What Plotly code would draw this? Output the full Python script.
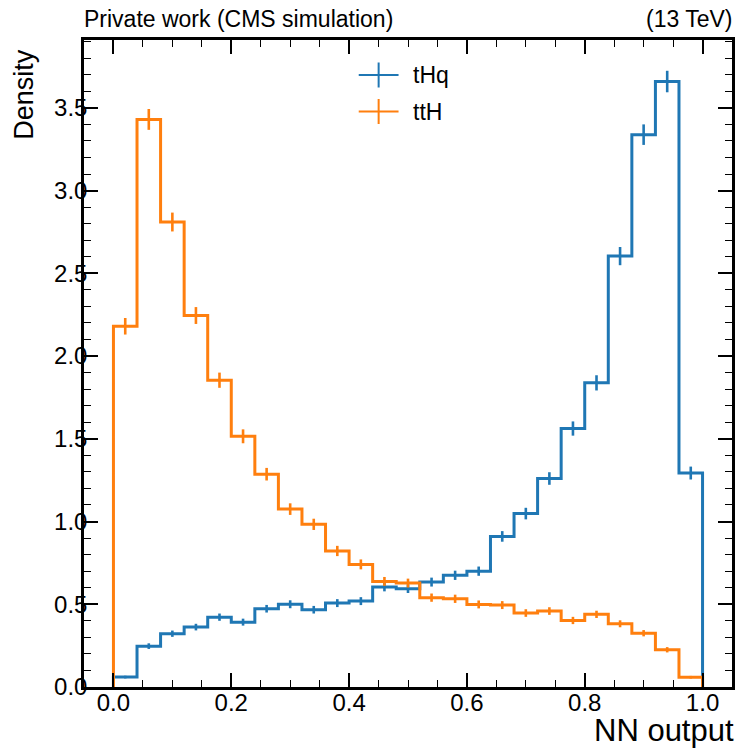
import numpy as np
import plotly.graph_objects as go

# ---------------- data ----------------
bin_edges = [round(0.04 * i, 2) for i in range(26)]

thq_values = [0.06, 0.247, 0.322, 0.362, 0.422, 0.392, 0.473, 0.50, 0.467, 0.507,
              0.519, 0.604, 0.594, 0.634, 0.675, 0.70, 0.91, 1.048, 1.26, 1.562,
              1.838, 2.604, 3.338, 3.659, 1.293]
thq_errors = [0.008, 0.017, 0.019, 0.020, 0.022, 0.021, 0.023, 0.024, 0.023, 0.024,
              0.024, 0.026, 0.026, 0.027, 0.028, 0.028, 0.032, 0.035, 0.038, 0.043,
              0.046, 0.055, 0.062, 0.065, 0.039]

tth_values = [2.18, 3.43, 2.81, 2.245, 1.854, 1.515, 1.286, 1.075, 0.983, 0.822,
              0.741, 0.638, 0.628, 0.540, 0.533, 0.499, 0.495, 0.447, 0.459, 0.402,
              0.439, 0.382, 0.325, 0.225, 0.059]
tth_errors = [0.050, 0.063, 0.057, 0.051, 0.046, 0.042, 0.038, 0.035, 0.034, 0.031,
              0.030, 0.027, 0.027, 0.025, 0.025, 0.024, 0.024, 0.023, 0.023, 0.022,
              0.022, 0.021, 0.019, 0.016, 0.008]

series_names = ["tHq", "ttH"]
series_colors = ["#1f77b4", "#ff7f0e"]

x_tick_values = [0.0, 0.2, 0.4, 0.6, 0.8, 1.0]
y_tick_values = [0.0, 0.5, 1.0, 1.5, 2.0, 2.5, 3.0, 3.5]

# ---------------- layout geometry ----------------
W, H = 738, 748
ML, MR, MT, MB = 84, 3, 40, 61
PW, PH = W - ML - MR, H - MT - MB
FONT = "Liberation Sans, Arial, Helvetica, sans-serif"


def px2paper(px, py):
    return (px - ML) / PW, (H - MB - py) / PH


fig = go.Figure()

centers = [(bin_edges[i] + bin_edges[i + 1]) / 2 for i in range(len(bin_edges) - 1)]
for name, vals, errs, col in zip(series_names, [thq_values, tth_values],
                                 [thq_errors, tth_errors], series_colors):
    xs = [bin_edges[0]] + list(bin_edges)
    ys = [0] + list(vals) + [0]
    fig.add_trace(go.Scatter(x=xs, y=ys, mode="lines", line=dict(color=col, width=3, shape="hv"),
                             name=name, showlegend=False, hoverinfo="skip", cliponaxis=True))
    fig.add_trace(go.Scatter(x=centers, y=vals, mode="markers",
                             marker=dict(size=1, color="rgba(0,0,0,0)"),
                             error_y=dict(type="data", array=errs, visible=True, color=col,
                                          thickness=2.6, width=0),
                             name=name, showlegend=False))

axis_common = dict(
    showline=True, linecolor="black", linewidth=2.5, mirror="allticks",
    ticks="inside", ticklen=14, tickwidth=1.6, tickcolor="black",
    showgrid=False, zeroline=False,
    tickfont=dict(family=FONT, size=24, color="black"),
)

fig.update_xaxes(range=[-0.05, 1.05], tickvals=x_tick_values,
                 ticktext=[f"{v:.1f}" for v in x_tick_values],
                 ticklabelstandoff=-8,
                 minor=dict(ticks="inside", ticklen=7, tickwidth=1.4, dtick=0.05,
                            tick0=0, tickcolor="black", showgrid=False),
                 **axis_common)
fig.update_yaxes(range=[0, 3.91], tickvals=y_tick_values,
                 ticktext=[f"{v:.1f}" for v in y_tick_values],
                 ticklabelstandoff=-11,
                 minor=dict(ticks="inside", ticklen=7, tickwidth=1.4, dtick=0.1,
                            tick0=0, tickcolor="black", showgrid=False),
                 **axis_common)

annotations = []
# axis labels
x0, y0 = px2paper(735, 711)
annotations.append(dict(text="NN output", xref="paper", yref="paper", x=x0, y=y0,
                        xanchor="right", yanchor="top", xshift=4, showarrow=False,
                        font=dict(family=FONT, size=31, color="black")))
x0, y0 = px2paper(6, 47)
annotations.append(dict(text="Density", xref="paper", yref="paper", x=x0, y=y0,
                        xanchor="left", yanchor="top", textangle=-90, showarrow=False,
                        font=dict(family=FONT, size=27, color="black")))
# top labels
x0, y0 = px2paper(82, 34)
annotations.append(dict(text="Private work (CMS simulation)", xref="paper", yref="paper",
                        x=x0, y=y0, xanchor="left", yanchor="bottom", showarrow=False,
                        font=dict(family=FONT, size=23, color="black")))
x0, y0 = px2paper(738, 34)
annotations.append(dict(text="(13 TeV)", xref="paper", yref="paper",
                        x=x0, y=y0, xanchor="right", yanchor="bottom", showarrow=False,
                        font=dict(family=FONT, size=23, color="black")))

# manual legend (line + vertical errorbar handle)
shapes = []
legend_rows_y = [75, 111.5]
for name, col, ry in zip(series_names, series_colors, legend_rows_y):
    xa, ya = px2paper(360, ry)
    xb, _ = px2paper(400, ry)
    shapes.append(dict(type="line", xref="paper", yref="paper", x0=xa, x1=xb, y0=ya, y1=ya,
                       line=dict(color=col, width=2)))
    xc, yt = px2paper(380, ry - 12.5)
    _, yb = px2paper(380, ry + 12.5)
    shapes.append(dict(type="line", xref="paper", yref="paper", x0=xc, x1=xc, y0=yb, y1=yt,
                       line=dict(color=col, width=2)))
    xt, yt2 = px2paper(413, ry)
    annotations.append(dict(text=name, xref="paper", yref="paper", x=xt, y=yt2,
                            xanchor="left", yanchor="middle", showarrow=False,
                            font=dict(family=FONT, size=23, color="black")))

fig.update_layout(
    width=W, height=H,
    margin=dict(l=ML, r=MR, t=MT, b=MB),
    paper_bgcolor="white", plot_bgcolor="white",
    showlegend=False,
    annotations=annotations, shapes=shapes,
    font=dict(family=FONT, size=22, color="black"),
)

fig.write_html("out.html")
